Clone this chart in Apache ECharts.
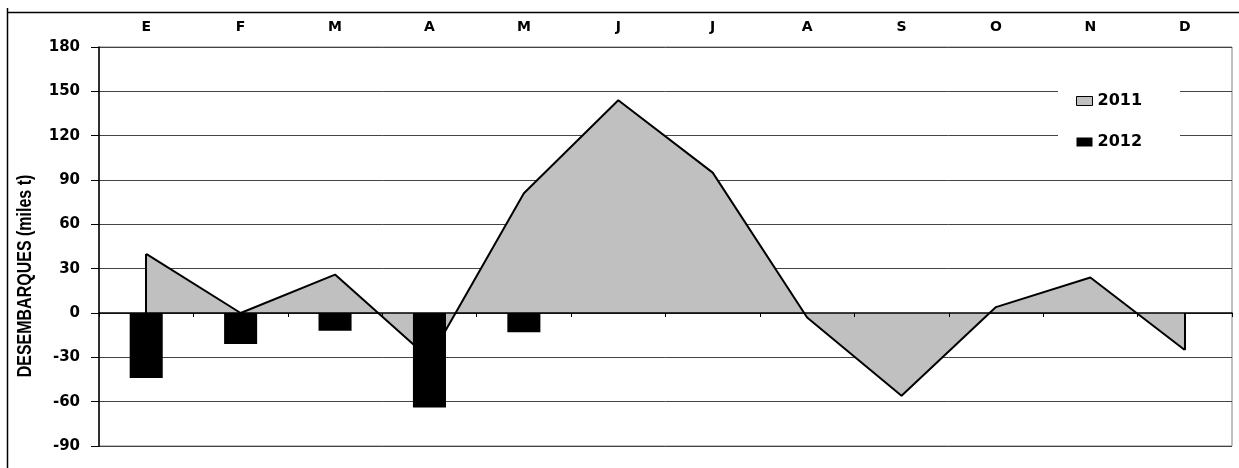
<!DOCTYPE html>
<html>
<head>
<meta charset="utf-8">
<title>Desembarques</title>
<style>
	html,body{margin:0;padding:0;background:#fff;}
	#chart{width:1239px;height:468px;}
</style>
</head>
<body>
<div id="chart"></div>
<script type="text/javascript" src="https://cdn.jsdelivr.net/npm/echarts@6/dist/echarts.min.js"></script>
<script type="text/javascript">
	// meses (enero..diciembre)
	var months = ['E', 'F', 'M', 'A', 'M', 'J', 'J', 'A', 'S', 'O', 'N', 'D'];
	// desembarques, miles t
	var landings2011 = [40, 0, 26, -31, 81, 144, 95, -3, -56, 4, 24, -25];
	var landings2012 = [-44, -21, -12, -64, -13];
	var yTicks = [-90, -60, -30, 0, 30, 60, 90, 120, 150, 180];
	var seriesNames = ['2011', '2012'];

	var last = landings2011.length - 1;
	var labelFont = {fontFamily: 'DejaVu Sans', fontWeight: 'bold', color: '#000'};

	var option = {
		animation: false,
		backgroundColor: '#fff',
		grid: {
			left: 99,
			right: 7,
			top: 47,
			bottom: 22,
			show: true,
			borderColor: '#808080',
			borderWidth: 1
		},
		legend: {
			orient: 'vertical',
			left: 1058,
			top: 70,
			padding: [22, 38, 19, 18],
			backgroundColor: '#fff',
			itemWidth: 16,
			itemHeight: 9,
			itemGap: 23,
			textStyle: {fontFamily: 'DejaVu Sans', fontWeight: 'bold', fontSize: 16, lineHeight: 18, color: '#000'},
			data: [
				{name: seriesNames[0], icon: 'rect', itemStyle: {color: '#c0c0c0', borderColor: '#000', borderWidth: 1}},
				{name: seriesNames[1], icon: 'rect', itemStyle: {color: '#000', borderWidth: 0}}
			]
		},
		xAxis: [
			{
				type: 'category',
				data: months,
				position: 'bottom',
				z: 10,
				axisLine: {onZero: true, lineStyle: {color: '#000', width: 1.5}},
				axisTick: {show: true, length: 4, lineStyle: {color: '#000'}},
				axisLabel: {show: false},
				splitLine: {show: false}
			},
			{
				type: 'category',
				data: months,
				position: 'top',
				axisLine: {show: false, onZero: false},
				axisTick: {show: false},
				axisLabel: Object.assign({fontSize: 14, margin: 13}, labelFont),
				splitLine: {show: false}
			}
		],
		yAxis: {
			type: 'value',
			min: yTicks[0],
			max: yTicks[yTicks.length - 1],
			interval: yTicks[1] - yTicks[0],
			axisLine: {show: true, lineStyle: {color: '#000', width: 1.5}},
			axisTick: {show: true, length: 8, lineStyle: {color: '#000'}},
			axisLabel: Object.assign({fontSize: 15, margin: 19}, labelFont),
			splitLine: {lineStyle: {color: '#444', width: 1}}
		},
		graphic: [
			{type: 'line', shape: {x1: 7.5, y1: 8, x2: 7.5, y2: 468}, style: {stroke: '#000', lineWidth: 1.5}},
			{type: 'line', shape: {x1: 7, y1: 12.5, x2: 1239, y2: 12.5}, style: {stroke: '#000', lineWidth: 1.5}},
			{
				type: 'text',
				x: 25,
				y: 276,
				rotation: Math.PI / 2,
				scaleY: 1.25,
				style: {
					text: 'DESEMBARQUES (miles t)',
					fontFamily: 'Liberation Sans',
					fontWeight: 'bold',
					fontSize: 16,
					fill: '#000',
					align: 'center',
					verticalAlign: 'middle'
				}
			}
		],
		series: [
			{
				name: seriesNames[0],
				type: 'line',
				xAxisIndex: 0,
				z: 2,
				data: landings2011,
				symbol: 'none',
				color: '#c0c0c0',
				lineStyle: {color: '#000', width: 2},
				areaStyle: {color: '#c0c0c0', opacity: 1},
				markLine: {
					silent: true,
					symbol: 'none',
					label: {show: false},
					lineStyle: {color: '#000', width: 2, type: 'solid'},
					data: [
						[{coord: [0, 0]}, {coord: [0, landings2011[0]]}],
						[{coord: [last, 0]}, {coord: [last, landings2011[last]]}]
					]
				}
			},
			{
				name: seriesNames[1],
				type: 'bar',
				xAxisIndex: 0,
				z: 3,
				barWidth: '35%',
				data: landings2012,
				itemStyle: {color: '#000'}
			}
		]
	};

	var myChart = echarts.init(document.getElementById('chart'));
	myChart.setOption(option);
</script>
</body>
</html>
